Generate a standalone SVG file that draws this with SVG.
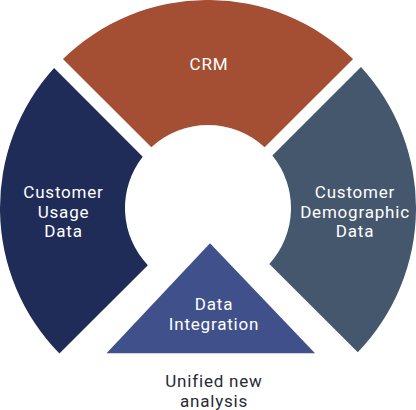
<svg xmlns="http://www.w3.org/2000/svg" width="416" height="410" viewBox="0 0 416 410">
<style>
.lbl{font-family:Roboto,"Liberation Sans",sans-serif;font-size:17px;letter-spacing:0.8px;fill:#ffffff;text-anchor:middle}
.cap{font-family:Roboto,"Liberation Sans",sans-serif;font-size:17px;letter-spacing:0.8px;fill:#262b36;text-anchor:middle}
</style>
<rect width="416" height="410" fill="#ffffff"/>
<g id="crm">
<path d="M62.93 58.93 A208 208 0 0 1 353.07 58.93 L264.66 147.34 A83 83 0 0 0 151.34 147.34 Z" fill="#a44e34"/>
<text class="lbl" x="209" y="70">CRM</text>
</g>
<g id="usage">
<path d="M54.09 68.09 L142.73 156.73 A83 83 0 0 0 147.83 265.17 L59.43 353.57 A208 208 0 0 1 54.09 68.09 Z" fill="#1f2c58"/>
<text class="lbl" x="63.5" y="198.3">Customer</text>
<text class="lbl" x="63.5" y="217.6">Usage</text>
<text class="lbl" x="63.5" y="237.3">Data</text>
</g>
<g id="demographic">
<path d="M360.96 67.04 A208 208 0 0 1 357.8 352.3 L269.38 263.88 A83 83 0 0 0 272.38 155.62 Z" fill="#45576d"/>
<text class="lbl" x="355" y="198.3">Customer</text>
<text class="lbl" x="355" y="217.6">Demographic</text>
<text class="lbl" x="355" y="237.3">Data</text>
</g>
<g id="integration">
<path d="M210 243.3 L315 353.3 L106.5 353.3 Z" fill="#40508a"/>
<text class="lbl" x="214" y="310">Data</text>
<text class="lbl" x="214" y="330">Integration</text>
</g>
<g id="connectors"></g>
<g id="result">
<text class="cap" x="214" y="387.3">Unified new</text>
<text class="cap" x="214" y="406.7">analysis</text>
</g>
</svg>
